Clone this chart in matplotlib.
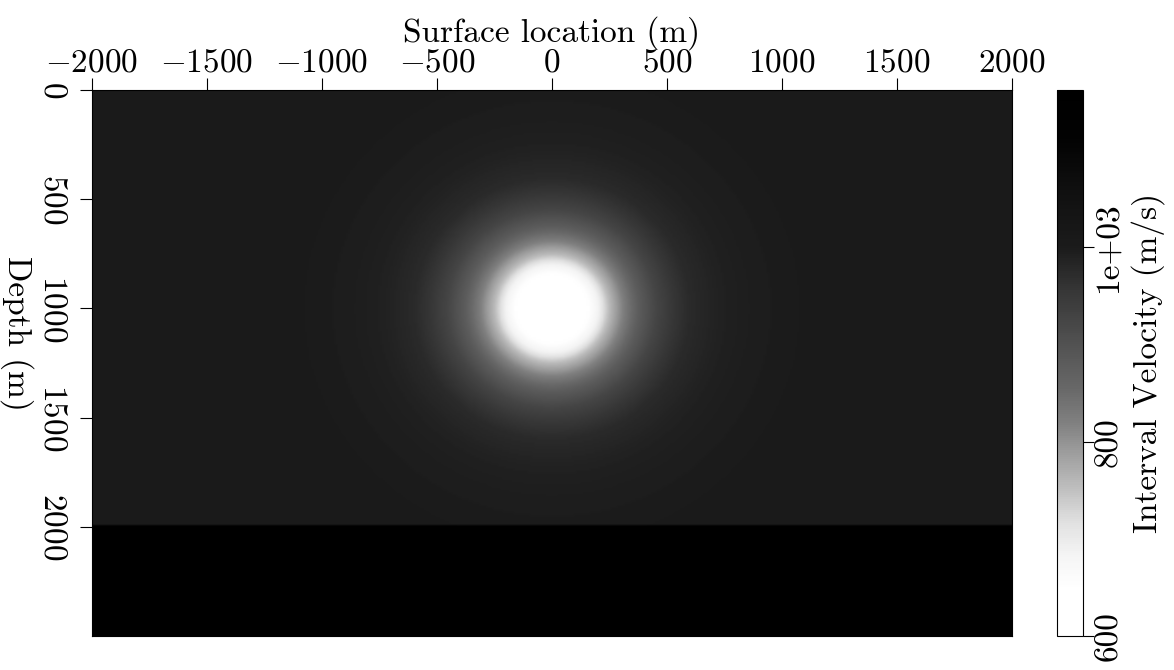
import numpy as np
import matplotlib.pyplot as plt
from matplotlib.colors import LinearSegmentedColormap
from matplotlib.ticker import FixedLocator, FixedFormatter

# model
x_range = [-2000, 2000]          # surface location (m)
z_range = [0, 2500]              # depth (m)
background_vel = 1000            # m/s
layer_top = 2000                 # m
layer_vel = 1160                 # m/s
anomaly_center = (0, 1000)       # (x, z) in m
# radial velocity profile of the low-velocity anomaly
profile_r = [0, 110, 160, 205, 250, 310, 380, 455, 530, 600, 740, 880, 1100]
profile_v = [600, 620, 648, 690, 757, 820, 880, 925, 955, 975, 990, 996, 1000]

# colour bar ticks
cbar_ticks = [600, 800, 1000]
cbar_labels = ["600", "800", "1e+03"]
x_ticks = [-2000, -1500, -1000, -500, 0, 500, 1000, 1500, 2000]
z_ticks = [0, 500, 1000, 1500, 2000]

# grey scale as seen on the colour bar (position, grey level)
cmap_nodes = [(0.0, 1.0), (0.085, 1.0), (0.146, 0.96), (0.208, 0.88),
              (0.268, 0.75), (0.329, 0.63), (0.391, 0.50), (0.451, 0.41),
              (0.544, 0.31), (0.635, 0.21), (0.712, 0.106), (0.820, 0.06),
              (0.911, 0.01), (1.0, 0.0)]
cmap = LinearSegmentedColormap.from_list(
    "sepgrey", [(p, (g, g, g)) for p, g in cmap_nodes])

xs = np.arange(x_range[0], x_range[1] + 1, 10.0)
zs = np.arange(z_range[0], z_range[1] + 1, 10.0)
X, Z = np.meshgrid(xs, zs)
R = np.hypot(X - anomaly_center[0], Z - anomaly_center[1])
vel = np.interp(R, profile_r, profile_v, right=background_vel)
vel[Z >= layer_top] = layer_vel

plt.rcParams['font.family'] = 'cmr10'
plt.rcParams['mathtext.fontset'] = 'cm'
plt.rcParams['axes.formatter.use_mathtext'] = True
plt.rcParams['font.size'] = 24

fig = plt.figure(figsize=(11.74, 6.70), dpi=100)
ax = fig.add_axes([92 / 1174, 1 - 636 / 670, 920 / 1174, 546 / 670])
im = ax.imshow(vel, cmap=cmap, vmin=600, vmax=1162, aspect='auto',
               extent=[x_range[0], x_range[1], z_range[1], z_range[0]],
               interpolation='bilinear')

ax.xaxis.set_ticks_position('top')
ax.xaxis.set_label_position('top')
ax.set_xticks(x_ticks)
ax.set_yticks(z_ticks)
ax.tick_params(axis='x', direction='out', length=9, width=0.8, pad=0)
ax.tick_params(axis='y', direction='out', length=9, width=0.8, pad=19)
for lbl in ax.get_yticklabels():
    lbl.set_rotation(-90)
    lbl.set_va('center')
    lbl.set_ha('center')
ax.set_xlabel("Surface location (m)", labelpad=5)
ax.set_ylabel("Depth (m)", rotation=-90, va='center', ha='center')
ax.yaxis.set_label_coords(-0.082, 0.5 + (363 - 333) / 546)
for s in ax.spines.values():
    s.set_linewidth(0.8)

cax = fig.add_axes([1057 / 1174, 1 - 636 / 670, 26 / 1174, 546 / 670])
cb = fig.colorbar(im, cax=cax)
cb.outline.set_linewidth(0.8)
cax.yaxis.set_major_locator(FixedLocator(cbar_ticks))
cax.yaxis.set_major_formatter(FixedFormatter(cbar_labels))
cax.tick_params(direction='out', length=8, width=0.8, pad=0)
for lbl in cax.get_yticklabels():
    lbl.set_rotation(90)
    lbl.set_va('center')
cb.set_label("Interval Velocity (m/s)", rotation=90, labelpad=6)

fig.savefig("out.png", dpi=100)
